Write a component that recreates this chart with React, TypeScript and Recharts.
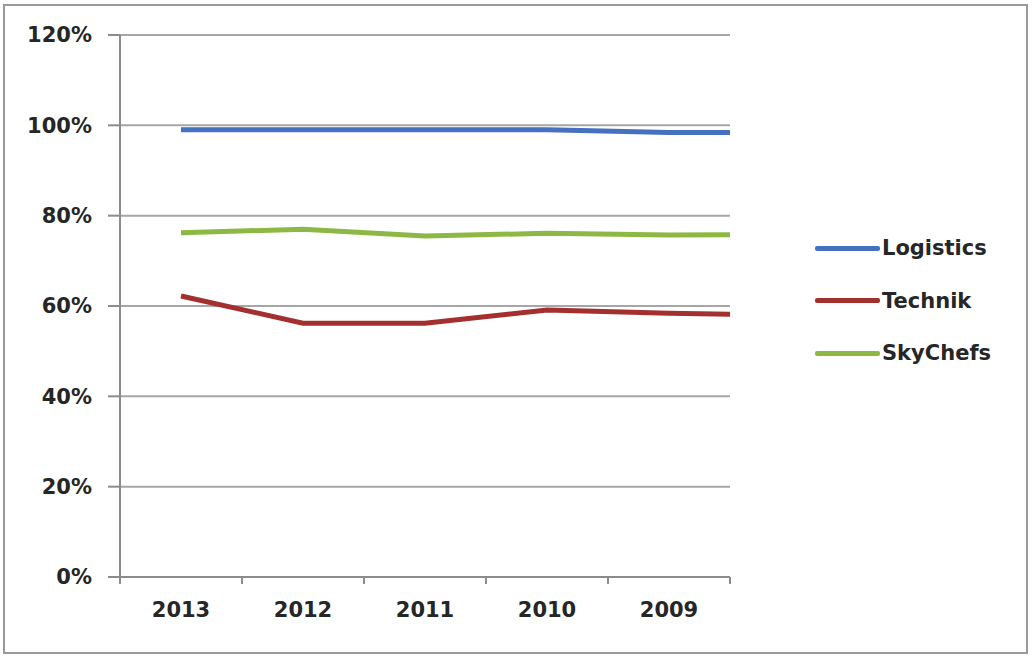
import { CartesianGrid, Line, LineChart, XAxis, YAxis } from "recharts";

// Categories in the order they appear on the axis (newest first).
const YEARS = ["2013", "2012", "2011", "2010", "2009"];
// Percent values per year; the extra last value is where each line meets
// the right edge of the plot (the lines run past the 2009 point).
const LOGISTICS = [99, 99, 99, 99, 98.4, 98.4];
const TECHNIK = [62.2, 56.2, 56.2, 59.1, 58.4, 58.2];
const SKYCHEFS = [76.2, 77, 75.5, 76.1, 75.7, 75.8];
const Y_TICKS = [0, 20, 40, 60, 80, 100, 120];

const SERIES = [
  { key: "Logistics", values: LOGISTICS, color: "#4670C0" },
  { key: "Technik", values: TECHNIK, color: "#A3302E" },
  { key: "SkyChefs", values: SKYCHEFS, color: "#8DB843" },
];

const FONT = "'DejaVu Sans', sans-serif";
const AXIS_GREY = "#8c8c8c";
const TEXT = "#262626";

// x = band centre for each year, last row sits on the right edge
const rows = LOGISTICS.map((_, i) => {
  const row: Record<string, number> = { x: i < YEARS.length ? i + 0.5 : YEARS.length };
  for (const s of SERIES) row[s.key] = s.values[i];
  return row;
});

// tick marks on band boundaries, year labels on band centres
const X_TICKS: number[] = [];
for (let i = 0; i <= YEARS.length * 2; i++) X_TICKS.push(i / 2);

function XTick(props: any) {
  const { x, y, payload } = props;
  const v = payload.value as number;
  if (Number.isInteger(v)) {
    return <line x1={x} x2={x} y1={y} y2={y + 7} stroke={AXIS_GREY} strokeWidth={2} />;
  }
  return (
    <text
      x={x}
      y={y + 40}
      textAnchor="middle"
      fontFamily={FONT}
      fontSize={21}
      fontWeight={700}
      fill={TEXT}
    >
      {YEARS[Math.floor(v)]}
    </text>
  );
}

export default function App() {
  return (
    <div style={{ position: "absolute", left: 0, top: 0, width: 1033, height: 659, background: "#fff" }}>
      <div style={{ position: "absolute", left: 0, top: 0 }}>
        <LineChart
          width={1033}
          height={659}
          data={rows}
          margin={{ top: 35, right: 303, bottom: 22, left: 0 }}
        >
          <CartesianGrid vertical={false} stroke="#a6a6a6" strokeWidth={2} />
          <XAxis
            dataKey="x"
            type="number"
            domain={[0, YEARS.length]}
            ticks={X_TICKS}
            interval={0}
            height={60}
            tickSize={0}
            tickMargin={0}
            tickLine={false}
            axisLine={{ stroke: AXIS_GREY, strokeWidth: 2 }}
            tick={<XTick />}
          />
          <YAxis
            domain={[0, 120]}
            ticks={Y_TICKS}
            width={120}
            tickSize={12}
            tickMargin={16}
            tickFormatter={(v) => `${v}%`}
            tickLine={{ stroke: AXIS_GREY, strokeWidth: 2 }}
            axisLine={{ stroke: AXIS_GREY, strokeWidth: 2 }}
            tick={{ fontFamily: FONT, fontSize: 21, fontWeight: 700, fill: TEXT }}
          />
          {SERIES.map((s) => (
            <Line
              key={s.key}
              dataKey={s.key}
              stroke={s.color}
              strokeWidth={5}
              dot={false}
              activeDot={false}
              isAnimationActive={false}
            />
          ))}
        </LineChart>
      </div>

      {/* legend, in series order */}
      <div
        style={{
          position: "absolute",
          left: 815,
          top: 222,
          fontFamily: FONT,
          fontSize: 21,
          fontWeight: 700,
          color: TEXT,
        }}
      >
        {SERIES.map((s) => (
          <div key={s.key} style={{ display: "flex", alignItems: "center", height: 52.5 }}>
            <span
              style={{
                display: "inline-block",
                width: 65,
                height: 5,
                borderRadius: 2,
                background: s.color,
                marginRight: 2,
              }}
            />
            {s.key}
          </div>
        ))}
      </div>

      {/* picture frame */}
      <div
        style={{
          position: "absolute",
          left: 3,
          top: 4,
          width: 1025,
          height: 650,
          border: "2px solid #999999",
          boxSizing: "border-box",
          pointerEvents: "none",
        }}
      />
    </div>
  );
}
